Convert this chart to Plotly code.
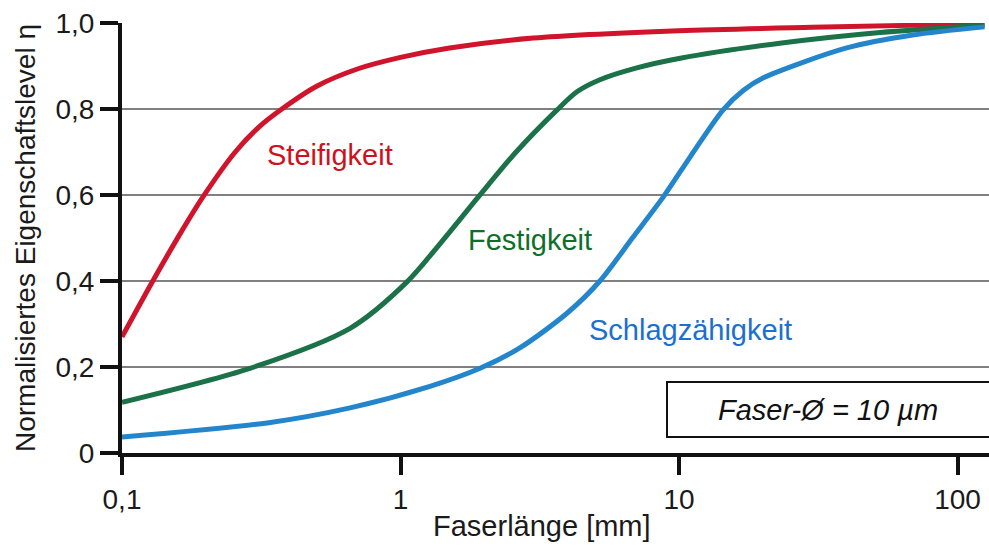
import plotly.graph_objects as go

# Data (x: fibre length in mm, y: normalised property level)
steif_x = [0.1, 0.129, 0.16, 0.195, 0.255, 0.31, 0.375, 0.5, 0.7, 1.0, 1.5, 3.0, 10, 30, 125]
steif_y = [0.27, 0.40, 0.505, 0.595, 0.70, 0.758, 0.80, 0.853, 0.893, 0.92, 0.942, 0.965, 0.982, 0.99, 0.998]

fest_x = [0.1, 0.288, 0.659, 1.055, 1.40, 1.90, 2.6, 3.65, 4.3, 5.2, 7.0, 10.1, 23, 52.7, 125]
fest_y = [0.118, 0.197, 0.29, 0.398, 0.49, 0.595, 0.70, 0.798, 0.84, 0.868, 0.895, 0.918, 0.953, 0.978, 0.995]

schlag_x = [0.1, 0.332, 0.659, 1.276, 1.93, 2.69, 3.96, 5.2, 6.8, 8.77, 11.0, 14.4, 17.0, 20, 40, 69, 125]
schlag_y = [0.037, 0.07, 0.105, 0.155, 0.197, 0.245, 0.325, 0.40, 0.50, 0.595, 0.69, 0.798, 0.843, 0.872, 0.942, 0.972, 0.991]

x_tickvals = [0.1, 1, 10, 100]
x_ticktext = ["0,1", "1", "10", "100"]
y_tickvals = [0, 0.2, 0.4, 0.6, 0.8, 1.0]
y_ticktext = ["0", "0,2", "0,4", "0,6", "0,8", "1,0"]

FONT = "Liberation Sans, Arial, sans-serif"
RED, GREEN, BLUE = "#D0142C", "#1B7148", "#2386CC"
W, H = 989, 547
L, R, T, B = 122, 0, 23, 94
PW, PH = W - L - R, H - T - B

fig = go.Figure()
for xs, ys, col in [(steif_x, steif_y, RED), (fest_x, fest_y, GREEN), (schlag_x, schlag_y, BLUE)]:
    fig.add_trace(go.Scatter(x=xs, y=ys, mode="lines",
                             line=dict(color=col, width=5, shape="spline", smoothing=0.8),
                             showlegend=False, hoverinfo="skip"))

fig.update_layout(
    width=W, height=H,
    margin=dict(l=L, r=R, t=T, b=B, autoexpand=False),
    paper_bgcolor="white", plot_bgcolor="white",
    font=dict(family=FONT, size=28, color="#1a1a1a"),
    xaxis=dict(type="log", range=[-1, 2.113], automargin=False,
               tickvals=x_tickvals, ticktext=x_ticktext,
               showline=True, linecolor="#111", linewidth=4,
               ticks="outside", ticklen=18, tickwidth=4, tickcolor="#111",
               showgrid=False, zeroline=False,
               tickfont=dict(size=28, family=FONT, color="#1a1a1a")),
    yaxis=dict(range=[0, 1.0], automargin=False,
               tickvals=y_tickvals, ticktext=y_ticktext,
               showline=True, linecolor="#111", linewidth=4,
               ticks="outside", ticklen=18, tickwidth=4, tickcolor="#111",
               showgrid=True, gridcolor="#808080", gridwidth=1.5, zeroline=False,
               tickfont=dict(size=28, family=FONT, color="#1a1a1a")),
)

annotations = [
    dict(x=-0.253, y=0.693, xref="x", yref="y", text="Steifigkeit", showarrow=False,
         xanchor="center", font=dict(size=29, color="#D0101C", family=FONT)),
    dict(x=0.465, y=0.495, xref="x", yref="y", text="Festigkeit", showarrow=False,
         xanchor="center", font=dict(size=29, color="#0E6E2A", family=FONT)),
    dict(x=1.043, y=0.286, xref="x", yref="y", text="Schlagzähigkeit", showarrow=False,
         xanchor="center", font=dict(size=29, color="#1B6FCF", family=FONT)),
    dict(x=(828 - L) / PW, y=0.1, xref="paper", yref="y", text="<i>Faser-Ø = 10 µm</i>", showarrow=False,
         xanchor="center", yanchor="middle", font=dict(size=29, color="#111", family=FONT)),
    dict(x=-(L - 25) / PW, y=0.5, xref="paper", yref="paper", text="Normalisiertes Eigenschaftslevel η",
         textangle=-90, showarrow=False, xanchor="center", yanchor="middle",
         font=dict(size=28, color="#1a1a1a", family=FONT)),
    dict(x=(542 - L) / PW, y=-(526 - (H - B)) / PH, xref="paper", yref="paper", text="Faserlänge [mm]",
         showarrow=False, xanchor="center", yanchor="middle",
         font=dict(size=29, color="#1a1a1a", family=FONT)),
]
fig.update_layout(annotations=annotations)

fig.add_shape(type="rect", xref="paper", yref="y",
              x0=(667 - L) / PW, x1=1.02, y0=0.037, y1=0.165,
              line=dict(color="#111", width=2), fillcolor="white", layer="above")

fig.write_html("out.html", config={"displayModeBar": False},
               post_script="document.body.style.margin='0';document.body.style.overflow='hidden';")
